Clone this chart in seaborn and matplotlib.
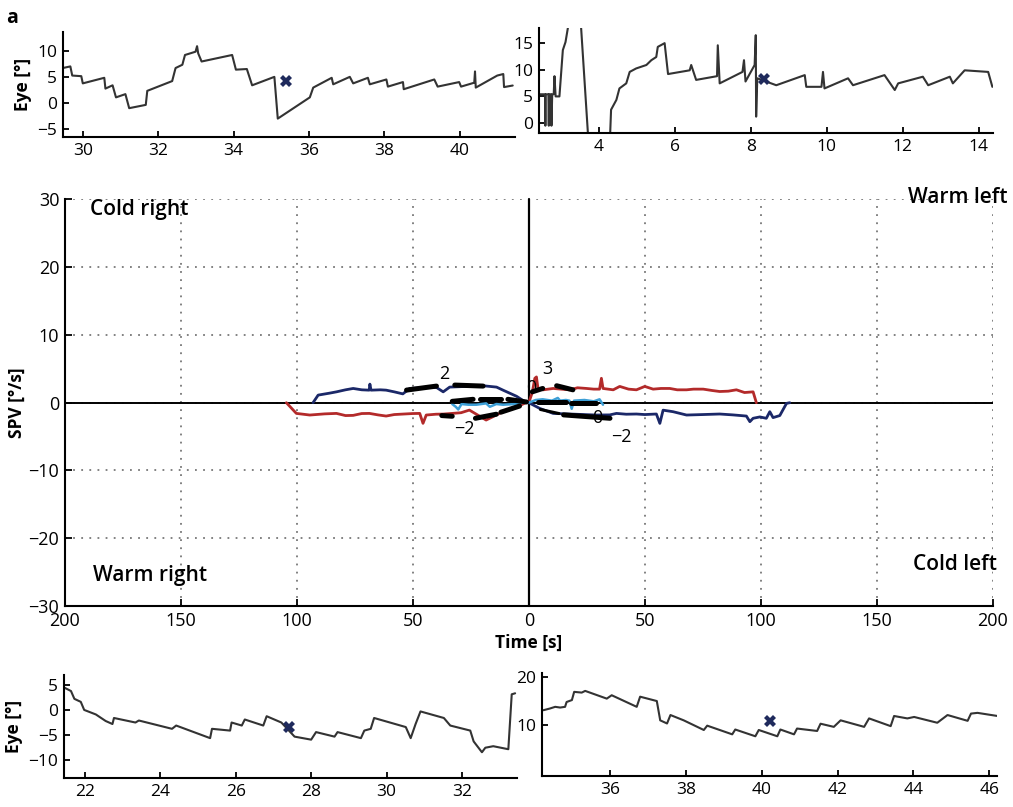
import numpy as np
import pandas as pd
import matplotlib
matplotlib.use("Agg")
import matplotlib.pyplot as plt
from matplotlib.ticker import FuncFormatter
import seaborn as sns

# ---------------- data: eye position panels ----------------
tl_t = [29.47, 29.67, 29.72, 29.96, 30.00, 30.57, 30.60, 30.79, 30.88, 31.13, 31.23, 31.67, 31.71,
        32.37, 32.46, 32.64, 32.71, 32.99, 33.03, 33.06, 33.15, 33.96, 34.06, 34.35, 34.49, 35.08,
        35.17, 36.02, 36.11, 36.60, 36.64, 37.08, 37.17, 37.56, 37.61, 38.05, 38.09, 38.49, 38.51,
        39.32, 39.41, 39.98, 40.03, 40.38, 40.40, 40.42, 40.99, 41.15, 41.17, 41.40]
tl_v = [6.75, 7.06, 5.31, 5.19, 3.81, 4.88, 2.81, 3.44, 1.13, 1.75, -0.94, -0.31, 2.38,
        4.25, 6.75, 7.38, 9.25, 9.88, 10.94, 9.56, 8.0, 9.25, 6.44, 6.56, 3.44, 5.06,
        -2.94, 1.13, 3.0, 4.88, 3.63, 5.06, 3.81, 4.88, 3.63, 4.56, 3.19, 4.06, 2.69,
        4.56, 3.19, 4.06, 3.19, 3.94, 6.1, 3.0, 5.31, 5.6, 3.1, 3.4]
tl_mark = (35.4, 4.2)

tr_t = [2.44, 2.58, 2.59, 2.60, 2.67, 2.68, 2.69, 2.74, 2.75, 2.77, 2.81, 2.83, 2.86, 2.96,
        3.05, 3.12, 3.20, 3.35, 3.53, 3.71, 3.73, 4.28, 4.32, 4.46, 4.54, 4.72, 4.81, 4.98,
        5.25, 5.38, 5.51, 5.55, 5.73, 5.82, 6.39, 6.43, 6.56, 7.11, 7.13, 7.18, 7.78, 7.82,
        7.86, 8.10, 8.13, 8.14, 8.17, 8.67, 9.42, 9.46, 9.86, 9.90, 9.94, 10.56, 10.69,
        11.52, 11.79, 11.88, 12.53, 12.67, 13.24, 13.32, 13.63, 14.25, 14.36]
tr_v = [5.4, 5.4, -0.5, 5.4, 5.4, -0.5, 5.4, 5.4, -0.5, 5.4, 5.4, 8.8, 5.0, 5.0,
        13.7, 15.2, 18.6, 25.0, 18.0, -1.9, -5.0, -5.0, 2.5, 4.35, 6.5, 7.45, 9.6, 10.25,
        10.9, 11.8, 12.4, 14.3, 15.0, 9.2, 9.9, 10.9, 8.1, 8.8, 14.6, 7.45, 9.6, 11.8,
        7.8, 10.9, 16.5, 1.2, 8.4, 7.1, 9.0, 6.8, 6.8, 9.6, 6.5, 8.4, 7.1,
        9.0, 6.2, 7.45, 8.7, 7.1, 8.7, 7.45, 9.9, 9.6, 6.8]
tr_mark = (8.36, 8.3)

bl_t = [21.46, 21.63, 21.72, 21.89, 21.98, 22.29, 22.55, 22.73, 22.77, 23.34, 23.43, 24.31,
        24.42, 25.32, 25.37, 25.85, 25.89, 26.16, 26.24, 26.73, 26.82, 27.21, 27.56, 28.00,
        28.13, 28.62, 28.70, 29.32, 29.41, 29.58, 29.67, 30.51, 30.64, 30.77, 30.90, 31.52,
        31.69, 32.22, 32.31, 32.53, 32.62, 32.83, 33.23, 33.32, 33.41]
bl_v = [4.4, 3.75, 2.2, 1.6, 0.0, -0.9, -2.2, -2.8, -1.6, -2.5, -2.1, -3.75,
        -3.1, -5.6, -3.75, -4.1, -2.5, -3.1, -1.9, -3.1, -1.25, -2.5, -5.3, -5.9,
        -4.4, -5.3, -4.4, -5.6, -4.1, -3.75, -1.6, -3.4, -5.6, -2.8, -0.3, -1.6,
        -3.1, -4.1, -6.25, -8.4, -7.5, -7.2, -7.8, 3.1, 3.3]
bl_mark = (27.40, -3.4)

br_t = [34.24, 34.41, 34.55, 34.68, 34.81, 34.85, 34.99, 35.05, 35.25, 35.34, 35.91, 36.04,
        36.70, 36.79, 37.23, 37.32, 37.50, 37.59, 37.94, 38.47, 38.56, 39.22, 39.30, 39.83,
        39.92, 40.41, 40.49, 40.85, 40.93, 41.46, 41.55, 41.90, 42.08, 42.70, 42.83, 43.40,
        43.49, 43.84, 44.02, 44.63, 44.90, 45.43, 45.52, 45.69, 46.22]
br_v = [13.1, 13.45, 13.8, 13.65, 13.8, 14.8, 15.2, 16.9, 16.75, 17.1, 15.5, 16.2,
        13.8, 15.9, 15.0, 11.0, 10.35, 12.1, 11.0, 9.0, 9.9, 8.1, 9.1, 7.7,
        9.0, 7.7, 9.1, 8.1, 9.3, 8.8, 10.3, 9.65, 11.0, 9.65, 11.4, 9.8,
        11.9, 11.4, 11.7, 10.5, 12.1, 10.9, 12.4, 12.55, 11.9]
br_mark = (40.21, 10.9)

# ---------------- data: SPV main panel (time in s, right-ear side drawn to the left) ----------------
L_red_t = [104.5, 100.2, 94.4, 88, 82.9, 79, 75.7, 72, 68.7, 65, 61.5, 58, 54.3, 50, 47.0, 45.6,
           44.2, 40, 36.9, 29.2, 25.6, 18.4, 11.1, 5.3, 1.4]
L_red_v = [0, -1.58, -1.82, -1.65, -1.58, -1.9, -1.87, -1.6, -1.58, -1.8, -1.97, -1.75, -1.68,
           -1.6, -1.58, -3.05, -1.82, -1.7, -1.68, -1.48, -1.09, -2.56, -1.33, -0.7, 0]
L_navy_t = [93.0, 90.8, 86, 82.9, 79, 75.7, 72, 68.8, 68.5, 68.0, 64, 61.5, 58, 54.3, 51.3, 46,
            39.8, 36.9, 34.1, 27, 19.7, 13.9, 11.1, 5.3, 1.0]
L_navy_v = [0, 1.12, 1.4, 1.6, 1.9, 2.1, 1.9, 1.85, 2.74, 1.85, 1.9, 1.85, 1.6, 1.3, 2.1, 2.2,
            2.25, 1.6, 2.3, 2.4, 2.5, 2.3, 1.85, 0.95, 0]
L_cyan_t = [33, 31.5, 30.4, 29.0, 26, 22.6, 18.4, 16.8, 14, 11.1, 6, 2.5]
L_cyan_v = [-0.2, -0.6, -1.0, -0.2, -0.3, -0.3, -0.1, -0.6, -0.2, -0.3, -0.2, 0]

R_red_t = [0, 1.5, 2.6, 3.3, 4.0, 6.2, 10.5, 14, 17.7, 21, 24.9, 28, 30.5, 31.3, 32.0, 36.4,
           39.2, 43, 46.4, 50.0, 53.6, 57, 60.8, 64, 68.0, 71, 75.2, 79, 82.3, 86, 89.5, 93,
           96.7, 98.1]
R_red_v = [0, 1.5, 3.6, 3.8, 2.0, 1.9, 2.1, 2.0, 1.9, 2.2, 2.1, 2.0, 2.0, 3.6, 2.1, 1.9,
           2.4, 2.0, 1.9, 2.4, 2.0, 2.1, 2.1, 1.9, 1.9, 2.0, 2.0, 1.8, 1.65, 1.7, 1.9, 1.5,
           1.6, 0]
R_navy_t = [0, 4.7, 10.5, 20, 29.2, 34.9, 37.8, 42, 46.4, 50, 55.0, 56.5, 57.9, 62.2, 68.0,
            75, 82.3, 88, 93.8, 95.3, 96.7, 99.6, 102.4, 103.9, 105.3, 108.2, 111.1, 112.5]
R_navy_v = [0, -0.84, -1.58, -1.7, -1.82, -1.8, -1.58, -1.7, -1.67, -1.75, -1.67, -3.05, -1.1,
            -1.33, -1.82, -1.75, -1.67, -1.8, -1.97, -2.8, -2.3, -2.1, -2.3, -1.33, -2.2,
            -1.9, -0.1, 0]
R_cyan_t = [0, 3, 6, 10, 12.5, 13.5, 16, 17.5, 18.5, 19.5, 24, 28, 30.5, 32]
R_cyan_v = [0, 0.4, 0.5, 0.3, 0.7, 0.3, 0.4, 0.3, -0.9, 0.3, 0.4, 0.2, 0.5, -0.3]

# black fitted segments: side (-1 right ear / +1 left ear), segment id, time, value
blk_side = [-1, -1, -1, -1, -1, -1, -1, -1, -1, -1, -1, -1, -1, -1, -1, -1,
            1, 1, 1, 1, 1, 1, 1, 1, 1, 1]
blk_seg = [1, 1, 2, 2, 3, 3, 4, 4, 5, 5, 6, 6, 7, 7, 8, 8,
           9, 9, 10, 10, 11, 11, 12, 12, 13, 13]
blk_t = [52.7, 39.8, 31.9, 19.7, 33, 24, 21, 12, 9, 1, 37.5, 33, 23, 14, 12, 4,
         1.5, 6, 12, 19, 4, 16, 18, 29, 15, 35]
blk_v = [1.86, 2.45, 2.6, 2.45, 0.2, 0.5, 0.6, 0.6, 0.5, 0.1, -1.9, -2.0, -2.3, -1.7, -1.4, -0.5,
         1.6, 2.1, 2.5, 1.9, 0.1, 0.1, 0.0, 0.0, -1.8, -2.3]
blk_lower_seg_t = [5, 13]
blk_lower_seg_v = [-1.0, -1.6]

fit_labels = ["2", "\u22122", "3", "0", "0", "\u22122"]
fit_label_x = [-36.6, -27.6, 7.8, 1.2, 29.7, 40.1]
fit_label_y = [4.2, -3.9, 4.9, 2.2, -2.3, -5.0]

corner_labels = ["Cold right", "Warm left", "Warm right", "Cold left"]

main_xticks = [-200, -150, -100, -50, 0, 50, 100, 150, 200]
main_yticks = [-30, -20, -10, 0, 10, 20, 30]

# ---------------- style ----------------
sns.set_style("ticks")
plt.rcParams['font.family'] = ['Open Sans', 'DejaVu Sans']
plt.rcParams['axes.linewidth'] = 1.5
plt.rcParams['axes.edgecolor'] = 'black'
plt.rcParams['text.color'] = 'black'
plt.rcParams['axes.labelcolor'] = 'black'
plt.rcParams['xtick.color'] = 'black'
plt.rcParams['ytick.color'] = 'black'
plt.rcParams['xtick.direction'] = 'in'
plt.rcParams['ytick.direction'] = 'in'
plt.rcParams['axes.unicode_minus'] = True

RED = "#b32a2a"
NAVY = "#1b2868"
CYAN = "#3d9fd6"
TRACE = "#333333"
MARK = "#1f2a5c"

fig = plt.figure(figsize=(10.13, 8.07), dpi=100)

ax_tl = fig.add_axes([0.062, 0.830, 0.446, 0.130])
ax_tr = fig.add_axes([0.532, 0.835, 0.448, 0.130])
ax_m = fig.add_axes([0.064, 0.249, 0.916, 0.504])
ax_bl = fig.add_axes([0.063, 0.036, 0.447, 0.128])
ax_br = fig.add_axes([0.535, 0.038, 0.449, 0.128])


def eye_panel(ax, t, v, mark, xlim, ylim, xticks, yticks, ylabel):
    sns.lineplot(x=t, y=v, ax=ax, color=TRACE, lw=1.5, sort=False, estimator=None)
    ax.plot([mark[0]], [mark[1]], marker='X', color=MARK, ms=9, mew=0, ls='none')
    ax.set_xlim(*xlim)
    ax.set_ylim(*ylim)
    ax.set_xticks(xticks)
    ax.set_yticks(yticks)
    for s in ['top', 'right']:
        ax.spines[s].set_visible(False)
    ax.tick_params(axis='both', labelsize=12.5, length=4, width=1.3, pad=4)
    if ylabel:
        ax.set_ylabel(ylabel, fontsize=12.5, fontweight='bold', labelpad=4)
    else:
        ax.set_ylabel("")


eye_panel(ax_tl, tl_t, tl_v, tl_mark, (29.47, 41.45), (-6.5, 13.6),
          [30, 32, 34, 36, 38, 40], [-5, 0, 5, 10], "Eye [°]")
eye_panel(ax_tr, tr_t, tr_v, tr_mark, (2.42, 14.37), (-1.9, 17.8),
          [4, 6, 8, 10, 12, 14], [0, 5, 10, 15], None)
eye_panel(ax_bl, bl_t, bl_v, bl_mark, (21.44, 33.45), (-13.5, 7.0),
          [22, 24, 26, 28, 30, 32], [-10, -5, 0, 5], "Eye [°]")
eye_panel(ax_br, br_t, br_v, br_mark, (34.2, 46.2), (-0.6, 20.8),
          [36, 38, 40, 42, 44, 46], [10, 20], None)

# ---------------- main SPV panel ----------------
ax = ax_m
ax.set_xlim(-200, 200)
ax.set_ylim(-30, 30)
ax.set_xticks(main_xticks)
ax.set_yticks(main_yticks)
ax.xaxis.set_major_formatter(FuncFormatter(lambda x, p: f"{abs(int(round(x)))}"))
ax.grid(True, linestyle=(0, (1, 3.5)), color="#777777", lw=1.3)
for s in ['top', 'right']:
    ax.spines[s].set_visible(False)
ax.tick_params(axis='both', labelsize=13, length=5, width=1.3, pad=4)
ax.axhline(0, color='black', lw=1.4, zorder=2)
ax.axvline(0, color='black', lw=1.6, zorder=2, clip_on=False)

sns.lineplot(x=-np.array(L_red_t), y=L_red_v, ax=ax, color=RED, lw=2.0, sort=False, estimator=None, zorder=3)
sns.lineplot(x=np.array(R_red_t), y=R_red_v, ax=ax, color=RED, lw=2.0, sort=False, estimator=None, zorder=3)
sns.lineplot(x=-np.array(L_navy_t), y=L_navy_v, ax=ax, color=NAVY, lw=2.0, sort=False, estimator=None, zorder=3)
sns.lineplot(x=np.array(R_navy_t), y=R_navy_v, ax=ax, color=NAVY, lw=2.0, sort=False, estimator=None, zorder=3)
sns.lineplot(x=-np.array(L_cyan_t), y=L_cyan_v, ax=ax, color=CYAN, lw=1.8, sort=False, estimator=None, zorder=3)
sns.lineplot(x=np.array(R_cyan_t), y=R_cyan_v, ax=ax, color=CYAN, lw=1.8, sort=False, estimator=None, zorder=3)

blk = pd.DataFrame({"x": np.array(blk_side) * np.array(blk_t), "v": blk_v, "seg": blk_seg})
sns.lineplot(data=blk, x="x", y="v", units="seg", estimator=None, sort=False, ax=ax,
             color="black", lw=3.6, zorder=4)
sns.lineplot(x=blk_lower_seg_t, y=blk_lower_seg_v, ax=ax, color="black", lw=2.2,
             sort=False, estimator=None, zorder=4)

for lab, lx, ly in zip(fit_labels, fit_label_x, fit_label_y):
    ax.text(lx, ly, lab, fontsize=13, ha='center', va='center', zorder=5)

ax.text(0.027, 0.975, corner_labels[0], transform=ax.transAxes, fontsize=15,
        fontweight='semibold', ha='left', va='center')
ax.text(1.016, 1.005, corner_labels[1], transform=ax.transAxes, fontsize=15,
        fontweight='semibold', ha='right', va='center')
ax.text(0.030, 0.076, corner_labels[2], transform=ax.transAxes, fontsize=15,
        fontweight='semibold', ha='left', va='center')
ax.text(1.004, 0.103, corner_labels[3], transform=ax.transAxes, fontsize=15,
        fontweight='semibold', ha='right', va='center')

ax.set_xlabel("Time [s]", fontsize=12.5, fontweight='bold', labelpad=3)
ax.set_ylabel("SPV [°/s]", fontsize=12.5, fontweight='bold', labelpad=2)

fig.text(0.006, 0.99, "a", fontsize=14, fontweight='bold', ha='left', va='top')

fig.savefig("out.png", dpi=100)
